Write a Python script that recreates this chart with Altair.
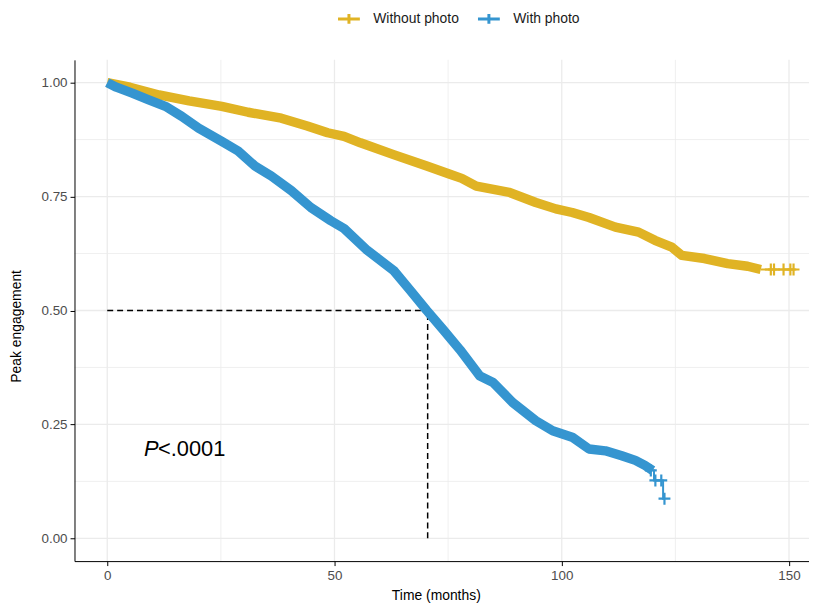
import altair as alt
import pandas as pd

# ---------------- data ----------------
groups = ["Without photo", "With photo"]
colors = ["#E0B324", "#3595D0"]

t_without = [0, 5, 11.4, 18, 25.2, 31, 38.3, 44, 48.5, 52.1, 55.7, 63, 70.3, 75.4, 78,
             81.2, 88.5, 94.3, 98.7, 102.3, 106, 111.8, 116.9, 120.5, 124.2, 126.4,
             131.4, 136.5, 140.9, 143.8]
s_without = [1.0, 0.99, 0.973, 0.96, 0.948, 0.935, 0.922, 0.905, 0.89, 0.882, 0.868,
             0.842, 0.817, 0.799, 0.79, 0.773, 0.759, 0.737, 0.723, 0.715, 0.704, 0.683,
             0.672, 0.654, 0.639, 0.621, 0.614, 0.603, 0.597, 0.59]

t_with = [0, 2, 5.5, 9, 12.8, 16.4, 20.1, 25.2, 28.8, 32.5, 36.1, 40.5, 44.8, 49.2, 52.1,
          57.2, 63, 66.6, 70.3, 74, 77.6, 82, 84.9, 89.2, 94.3, 98, 102.3, 106, 109.6,
          113.2, 116.2, 118.3, 120]
s_with = [1.0, 0.99, 0.977, 0.963, 0.948, 0.926, 0.90, 0.871, 0.85, 0.817, 0.795, 0.763,
          0.726, 0.697, 0.68, 0.632, 0.588, 0.545, 0.50, 0.457, 0.414, 0.356, 0.342, 0.298,
          0.258, 0.236, 0.222, 0.196, 0.192, 0.181, 0.171, 0.16, 0.149]

# sparse tails of the curves (thin steps)
tail_t_without = [143.8, 151]
tail_s_without = [0.59, 0.59]
tail_t_with = [120, 120.3, 120.3, 122.3, 122.3, 122.6]
tail_s_with = [0.149, 0.149, 0.127, 0.127, 0.087, 0.087]

# censoring marks
cens_t_without = [146, 146.7, 148.8, 150.3, 151]
cens_s_without = [0.59, 0.59, 0.59, 0.59, 0.59]
cens_t_with = [119.6, 120.6, 121.9, 122.6]
cens_s_with = [0.149, 0.127, 0.127, 0.087]

median_time = 70.5
median_surv = 0.5

x_major = [0, 50, 100, 150]
x_minor = [25, 75, 125]
y_major = [0, 0.25, 0.5, 0.75, 1.0]
y_minor = [0.125, 0.375, 0.625, 0.875]

p_label_x = 8.1
p_label_y = 0.196

# ---------------- frames ----------------
def frame(ts, ss, g):
    return pd.DataFrame({"time": ts, "surv": ss, "group": g})

main_df = pd.concat([frame(t_without, s_without, groups[0]), frame(t_with, s_with, groups[1])])
tail_df = pd.concat([frame(tail_t_without, tail_s_without, groups[0]),
                     frame(tail_t_with, tail_s_with, groups[1])])
cens_df = pd.concat([frame(cens_t_without, cens_s_without, groups[0]),
                     frame(cens_t_with, cens_s_with, groups[1])])

xs = alt.Scale(domain=[-7.2, 154.4], nice=False, zero=False)
ys = alt.Scale(domain=[-0.05, 1.05], nice=False, zero=False)
cs = alt.Scale(domain=groups, range=colors)

XT = "Time (months)"
YT = "Peak engagement"
xa = alt.Axis(values=x_major, titleX=364, titleY=28, titleBaseline="top", zindex=1)
ya = alt.Axis(values=y_major, format=".2f", titleX=-51, titleY=268,
              titleBaseline="bottom", zindex=1)


def X(f):
    return alt.X(f, scale=xs, title=XT, axis=xa)


def Y(f):
    return alt.Y(f, scale=ys, title=YT, axis=ya)


GRID = "#EBEBEB"

vmaj = alt.Chart(pd.DataFrame({"gx": x_major})).mark_rule(color=GRID, strokeWidth=1.3).encode(
    x=X("gx:Q"))
vmin = alt.Chart(pd.DataFrame({"gx": x_minor})).mark_rule(color=GRID, strokeWidth=0.8).encode(
    x=X("gx:Q"))
hmaj = alt.Chart(pd.DataFrame({"gy": y_major})).mark_rule(color=GRID, strokeWidth=1.3).encode(
    y=Y("gy:Q"))
hmin = alt.Chart(pd.DataFrame({"gy": y_minor})).mark_rule(color=GRID, strokeWidth=0.8).encode(
    y=Y("gy:Q"))

med = pd.DataFrame({"t0": [0], "t1": [median_time], "s0": [0], "s1": [median_surv]})
med_h = alt.Chart(med).mark_rule(color="black", strokeDash=[6, 4], strokeWidth=1.5).encode(
    x=X("t0:Q"), x2="t1:Q", y=Y("s1:Q"))
med_v = alt.Chart(med).mark_rule(color="black", strokeDash=[6, 4], strokeWidth=1.5).encode(
    x=X("t1:Q"), y=Y("s0:Q"), y2="s1:Q")

main = alt.Chart(main_df).mark_line(strokeWidth=9.5, strokeJoin="round").encode(
    x=X("time:Q"),
    y=Y("surv:Q"),
    color=alt.Color("group:N", scale=cs, title=None,
                    legend=alt.Legend(orient="none", direction="horizontal",
                                      legendX=264, legendY=-54,
                                      symbolType="M-1,0H1M0,-0.45V0.45",
                                      symbolSize=484, symbolStrokeWidth=3,
                                      labelFontSize=14, labelColor="#1A1A1A",
                                      labelOffset=12, columnPadding=12, padding=0)),
    detail="group:N")

tail = alt.Chart(tail_df).mark_line(strokeWidth=2).encode(
    x=X("time:Q"), y=Y("surv:Q"),
    color=alt.Color("group:N", scale=cs, legend=None),
    detail="group:N")

cens = alt.Chart(cens_df).mark_point(shape="M-1,0H1M0,-1V1", filled=False, strokeWidth=2.2,
                                     size=144, opacity=1).encode(
    x=X("time:Q"), y=Y("surv:Q"),
    color=alt.Color("group:N", scale=cs, legend=None))

ptxt = pd.DataFrame({"x": [p_label_x], "y": [p_label_y]})
p_it = alt.Chart(ptxt).mark_text(text="P", fontStyle="italic", fontSize=22, align="left",
                                 baseline="middle", font="Liberation Sans", color="black").encode(
    x=X("x:Q"), y=Y("y:Q"))
p_rest = alt.Chart(ptxt).mark_text(text="<.0001", fontSize=22, align="left", dx=14,
                                   baseline="middle", font="Liberation Sans", color="black").encode(
    x=X("x:Q"), y=Y("y:Q"))

chart = alt.layer(vmin, vmaj, hmin, hmaj, med_h, med_v, main, tail, cens, p_it, p_rest).properties(
    width=740, height=505,
    autosize=alt.AutoSizeParams(type="none"),
    padding={"left": 67, "top": 50, "right": 0, "bottom": 46},
    background="white",
).configure_view(stroke=None).configure_axis(
    grid=False, domainColor="black", domainWidth=1, tickColor="black", tickSize=4.5,
    tickWidth=1, labelColor="#4D4D4D", labelFontSize=13.5, labelFont="Liberation Sans",
    titleFont="Liberation Sans", titleFontSize=14, titleFontWeight="normal",
    titleColor="black", labelPadding=3
).configure_legend(labelFont="Liberation Sans")

chart.save("out.html", embed_options={"renderer": "svg", "actions": False})
